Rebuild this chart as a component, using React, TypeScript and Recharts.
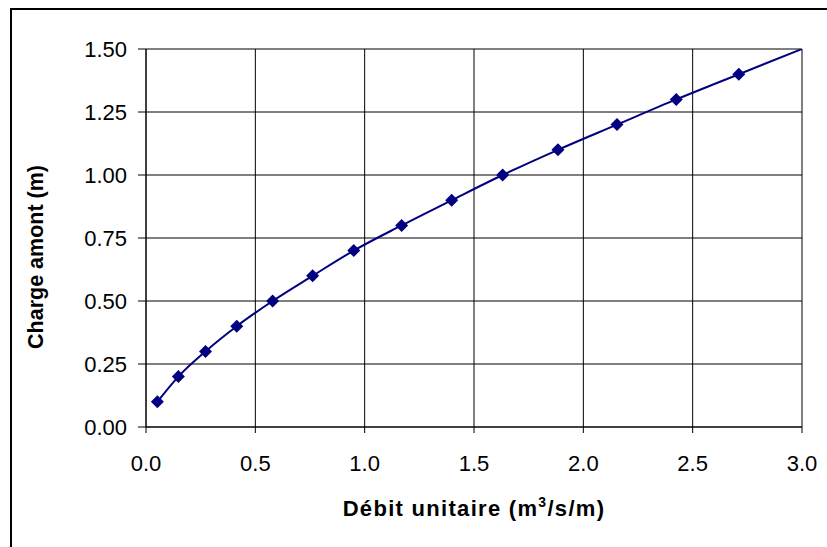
import { ComposedChart, Line, Scatter, XAxis, YAxis, CartesianGrid, Label } from 'recharts'

// débit unitaire (m3/s/m)
const debitPts = [0.052, 0.148, 0.272, 0.415, 0.579, 0.762, 0.95, 1.169, 1.398, 1.631, 1.884, 2.154, 2.425, 2.711]
const chargePts = [0.1, 0.2, 0.3, 0.4, 0.5, 0.6, 0.7, 0.8, 0.9, 1.0, 1.1, 1.2, 1.3, 1.4]
// the smoothed curve carries on to the right edge of the plot
const curveEndQ = 3.0
const curveEndH = 1.5

const xTicks = [0, 0.5, 1, 1.5, 2, 2.5, 3]
const yTicks = [0, 0.25, 0.5, 0.75, 1, 1.25, 1.5]

const points = debitPts.map((q, i) => ({ q, h: chargePts[i] }))
const curve = [...points, { q: curveEndQ, h: curveEndH }]

const NAVY = '#000080'
const FONT = '"Liberation Sans", Arial, sans-serif'

const Diamond = (p: any) => {
  const { cx, cy } = p
  const r = 6.5
  return <polygon points={`${cx},${cy - r} ${cx + r},${cy} ${cx},${cy + r} ${cx - r},${cy}`} fill={NAVY} />
}

export default function App() {
  return (
    <div style={{ position: 'absolute', left: 0, top: 0, width: 827, height: 547, background: '#fff', overflow: 'hidden' }}>
      <div style={{ position: 'absolute', left: 10, top: 8, width: 840, height: 560, borderLeft: '2px solid #000', borderTop: '2px solid #000' }} />
      <ComposedChart
        width={827}
        height={547}
        margin={{ top: 49, right: 25, bottom: 90, left: 86 }}
        style={{ position: 'absolute', left: 0, top: 0, fontFamily: FONT }}
      >
        <CartesianGrid stroke="#000" strokeWidth={1} horizontalValues={yTicks} verticalValues={xTicks} />
        <XAxis
          dataKey="q"
          type="number"
          domain={[0, 3]}
          ticks={xTicks}
          tickFormatter={(v: number) => v.toFixed(1)}
          tick={{ fontSize: 22, fill: '#000', fontFamily: FONT }}
          tickSize={6}
          tickMargin={22}
          stroke="#000"
          height={30}
          allowDataOverflow
        >
          <Label
            content={({ viewBox }: any) => (
              <text
                x={viewBox.x + viewBox.width / 2}
                y={viewBox.y + 89}
                textAnchor="middle"
                fontSize={22}
                letterSpacing={1.3}
                fontWeight="bold"
                fontFamily={FONT}
                fill="#000"
              >
                Débit unitaire (m<tspan dy={-9} fontSize={14}>3</tspan><tspan dy={9}>/s/m)</tspan>
              </text>
            )}
          />
        </XAxis>
        <YAxis
          dataKey="h"
          type="number"
          domain={[0, 1.5]}
          ticks={yTicks}
          tickFormatter={(v: number) => v.toFixed(2)}
          tick={{ fontSize: 22, fill: '#000', fontFamily: FONT }}
          tickSize={8}
          tickMargin={11}
          stroke="#000"
          width={60}
          allowDataOverflow
        >
          <Label
            content={({ viewBox }: any) => {
              const x = viewBox.x - 43
              const y = viewBox.y + viewBox.height / 2 + 19
              return (
                <text
                  x={x}
                  y={y}
                  transform={`rotate(-90 ${x} ${y})`}
                  textAnchor="middle"
                  fontSize={21.5}
                  fontWeight="bold"
                  fontFamily={FONT}
                  fill="#000"
                >
                  Charge amont (m)
                </text>
              )
            }}
          />
        </YAxis>
        <Line data={curve} dataKey="h" type="monotone" stroke={NAVY} strokeWidth={2} dot={false} activeDot={false} isAnimationActive={false} />
        <Scatter data={points} dataKey="h" shape={<Diamond />} isAnimationActive={false} />
      </ComposedChart>
    </div>
  )
}
